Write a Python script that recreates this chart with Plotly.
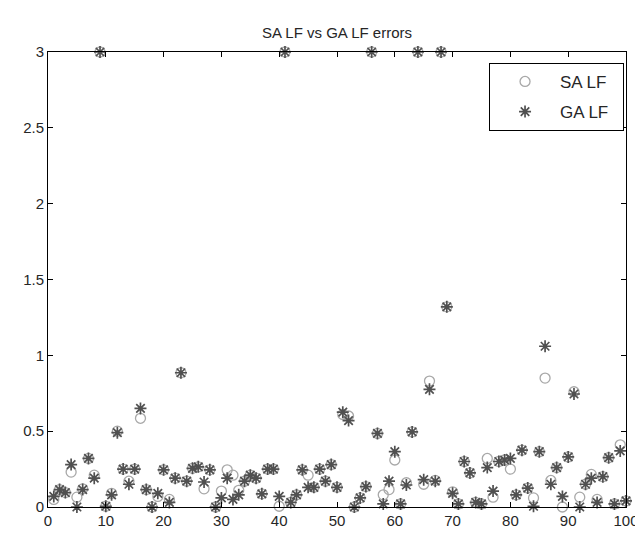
import plotly.graph_objects as go

x_vals = list(range(1, 101))

ga_lf = [0.07, 0.115, 0.095, 0.28, 0.0, 0.115, 0.32, 0.19, 3, 0.005,
         0.08, 0.49, 0.25, 0.15, 0.25, 0.65, 0.115, 0.0, 0.09, 0.245,
         0.03, 0.19, 0.885, 0.17, 0.255, 0.265, 0.165, 0.245, 0.0, 0.06,
         0.19, 0.05, 0.08, 0.17, 0.21, 0.19, 0.087, 0.25, 0.25, 0.07,
         3, 0.03, 0.08, 0.245, 0.13, 0.13, 0.25, 0.17, 0.28, 0.13,
         0.625, 0.57, 0.0, 0.06, 0.135, 3, 0.485, 0.02, 0.17, 0.365,
         0.02, 0.145, 0.495, 3, 0.18, 0.776, 0.17, 3, 1.32, 0.09,
         0.02, 0.3, 0.225, 0.03, 0.02, 0.26, 0.105, 0.3, 0.31, 0.32,
         0.08, 0.375, 0.125, 0.005, 0.365, 1.06, 0.15, 0.26, 0.07, 0.33,
         0.745, 0.0, 0.15, 0.19, 0.03, 0.2, 0.325, 0.02, 0.37, 0.04]

sa_lf = [0.05, 0.115, 0.095, 0.23, 0.065, 0.12, 0.32, 0.21, 3, 0.005,
         0.09, 0.5, 0.25, 0.17, 0.25, 0.585, 0.115, 0.0, 0.07, 0.245,
         0.05, 0.19, 0.885, 0.17, 0.255, 0.265, 0.12, 0.245, 0.0, 0.105,
         0.245, 0.21, 0.11, 0.17, 0.21, 0.19, 0.087, 0.25, 0.25, 0.005,
         3, 0.03, 0.08, 0.245, 0.21, 0.13, 0.25, 0.17, 0.28, 0.13,
         0.61, 0.6, 0.0, 0.06, 0.135, 3, 0.485, 0.08, 0.115, 0.31,
         0.02, 0.16, 0.495, 3, 0.15, 0.83, 0.175, 3, 1.32, 0.1,
         0.02, 0.3, 0.225, 0.03, 0.02, 0.32, 0.065, 0.3, 0.31, 0.25,
         0.08, 0.375, 0.125, 0.06, 0.365, 0.85, 0.175, 0.26, 0.0, 0.33,
         0.76, 0.065, 0.15, 0.215, 0.05, 0.2, 0.325, 0.02, 0.41, 0.04]

x_ticks = [0, 10, 20, 30, 40, 50, 60, 70, 80, 90, 100]
y_ticks = [0, 0.5, 1, 1.5, 2, 2.5, 3]
y_tick_text = ["0", "0.5", "1", "1.5", "2", "2.5", "3"]

FONT = "Liberation Sans, Arial, sans-serif"
TXT = "#262626"
PAD = "\u00a0\u00a0"

fig = go.Figure()
fig.add_trace(go.Scatter(
    x=x_vals, y=sa_lf, mode="markers", name="SA LF" + PAD, legendgroup="sa",
    marker=dict(symbol="circle-open", size=10, color="#a8a8a8",
                line=dict(width=1.3, color="#a8a8a8")),
    cliponaxis=False,
))
fig.add_trace(go.Scatter(
    x=x_vals, y=ga_lf, mode="markers", name="GA LF" + PAD, legendgroup="ga",
    marker=dict(symbol="asterisk-open", size=10, color="#505050",
                line=dict(width=1.7, color="#505050")),
    cliponaxis=False,
))

fig.update_layout(
    width=643, height=533,
    paper_bgcolor="white", plot_bgcolor="white",
    margin=dict(l=40, r=15, t=44, b=25),
    font=dict(family=FONT, size=15, color=TXT),
    title=dict(text="SA LF vs GA LF errors", x=0.5, xanchor="center",
               xref="paper", y=1 - 25 / 533, yanchor="middle",
               font=dict(family=FONT, size=15, color=TXT)),
    showlegend=True,
    legend=dict(x=0.9966, y=0.976, xanchor="right", yanchor="top",
                bgcolor="white", bordercolor="black", borderwidth=1,
                font=dict(family=FONT, size=17, color=TXT),
                traceorder="grouped", tracegroupgap=5,
                itemwidth=60),
)
fig.update_xaxes(
    range=[0, 100], tickvals=x_ticks, ticks="inside", ticklen=5,
    tickcolor="black", showline=True, linecolor="black", linewidth=1,
    mirror="ticks", showgrid=False, zeroline=False,
    tickfont=dict(family=FONT, size=15, color=TXT),
)
fig.update_yaxes(
    range=[0, 3], tickvals=y_ticks, ticktext=y_tick_text, ticks="inside",
    ticklen=5, tickcolor="black", showline=True, linecolor="black",
    linewidth=1, mirror="ticks", showgrid=False, zeroline=False,
    tickfont=dict(family=FONT, size=15, color=TXT),
)

fig.write_html("out.html")
